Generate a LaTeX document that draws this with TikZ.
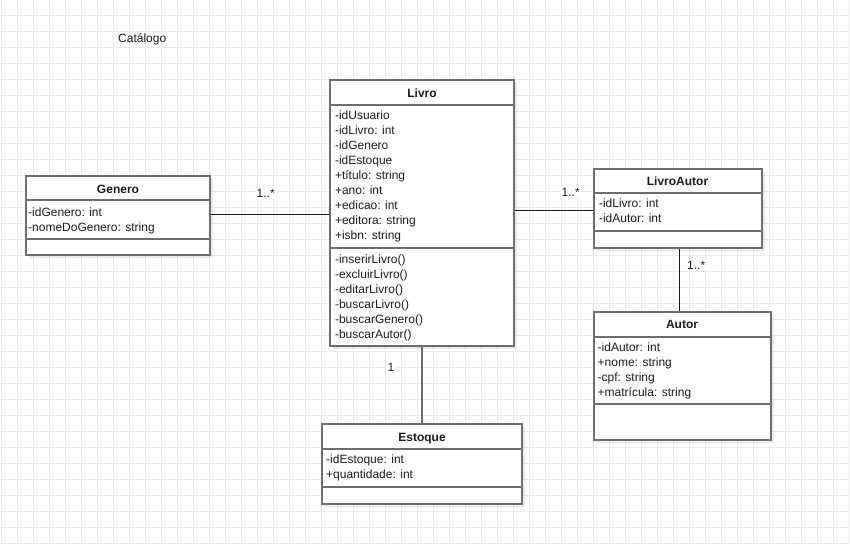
\documentclass[tikz,border=0pt]{standalone}
\usepackage{fontspec}
\setmainfont{Liberation Sans}
\usetikzlibrary{calc,shadows}
\definecolor{gridc}{HTML}{EBEBEB}
\definecolor{boxline}{HTML}{6E6E6E}
\definecolor{inkc}{HTML}{1C1C1C}
\definecolor{assocc}{HTML}{1A1A1A}
\pgfdeclarelayer{bg}
\pgfsetlayers{bg,main}
\tikzset{
  gridline/.style={draw=gridc, line width=1pt},
  cls/.style={draw=boxline, line width=2pt, fill=white, anchor=north west,
    inner sep=0pt, outer sep=0pt,
    drop shadow={shadow xshift=3pt, shadow yshift=-3pt, opacity=0.08, fill=black}},
  sepline/.style={draw=boxline, line width=2pt},
  ctitle/.style={anchor=base, inner sep=0pt, text=inkc,
    font=\bfseries\fontsize{12}{15}\selectfont},
  members/.style={anchor=north west, inner sep=0pt, align=left, text=inkc,
    font=\fontsize{12}{15}\selectfont},
  assoc/.style={draw=assocc, line width=1pt},
  assocgray/.style={draw=boxline, line width=2pt},
  mult/.style={anchor=base west, inner sep=1pt, fill=white, text=inkc,
    font=\fontsize{12}{15}\selectfont},
  plain/.style={anchor=base west, inner sep=0pt, text=inkc,
    font=\fontsize{12}{15}\selectfont}
}
\begin{document}
\begin{tikzpicture}[x=1pt,y=-1pt]
\useasboundingbox (0,0) rectangle (850,543);

% paper with grid
\begin{pgfonlayer}{bg}
  \fill[white] (0,0) rectangle (850,543);
  \foreach \i in {0,...,53} \draw[gridline] (1.5+16*\i,0) -- (1.5+16*\i,543);
  \foreach \j in {1,...,34} \draw[gridline] (0,-0.5+16*\j) -- (850,-0.5+16*\j);
\end{pgfonlayer}

% class boxes
\node[cls, minimum width=184pt, minimum height=266pt] (livro) at (330,80) {};
\node[cls, minimum width=184pt, minimum height=79pt] (genero) at (26,176) {};
\node[cls, minimum width=168pt, minimum height=79pt] (livroautor) at (593.5,168.5) {};
\node[cls, minimum width=177pt, minimum height=128pt] (autor) at (593.5,311.5) {};
\node[cls, minimum width=200pt, minimum height=80pt] (estoque) at (322,424) {};

% compartment separators
\draw[sepline] (livro.west |- 0,105) -- (livro.east |- 0,105);
\draw[sepline] (livro.west |- 0,248) -- (livro.east |- 0,248);
\draw[sepline] (genero.west |- 0,200) -- (genero.east |- 0,200);
\draw[sepline] (genero.west |- 0,238.7) -- (genero.east |- 0,238.7);
\draw[sepline] (livroautor.west |- 0,193) -- (livroautor.east |- 0,193);
\draw[sepline] (livroautor.west |- 0,231) -- (livroautor.east |- 0,231);
\draw[sepline] (autor.west |- 0,337) -- (autor.east |- 0,337);
\draw[sepline] (autor.west |- 0,404.3) -- (autor.east |- 0,404.3);
\draw[sepline] (estoque.west |- 0,449) -- (estoque.east |- 0,449);
\draw[sepline] (estoque.west |- 0,487) -- (estoque.east |- 0,487);

% class names
\node[ctitle] (livro-name) at (422,97.6) {Livro};
\node[ctitle] (genero-name) at (118,193.3) {Genero};
\node[ctitle] (livroautor-name) at (677.5,185) {LivroAutor};
\node[ctitle] (autor-name) at (682,328.6) {Autor};
\node[ctitle] (estoque-name) at (422,441) {Estoque};

% attributes and operations
\node[members] (livro-attrs) at (334.8,110.7) {-idUsuario\\-idLivro: int\\-idGenero\\-idEstoque\\+título: string\\+ano: int\\+edicao: int\\+editora: string\\+isbn: string};
\node[members] (livro-ops) at (334.8,254.9) {-inserirLivro()\\-excluirLivro()\\-editarLivro()\\-buscarLivro()\\-buscarGenero()\\-buscarAutor()};
\node[members] (genero-attrs) at (28,207.4) {-idGenero: int\\-nomeDoGenero: string};
\node[members] (livroautor-attrs) at (598.8,198.7) {-idLivro: int\\-idAutor: int};
\node[members] (autor-attrs) at (597.5,342.7) {-idAutor: int\\+nome: string\\-cpf: string\\+matrícula: string};
\node[members] (estoque-attrs) at (326,454.7) {-idEstoque: int\\+quantidade: int};

% associations
\begin{pgfonlayer}{bg}
  \draw[assoc] (genero.east |- 0,214.3) -- (livro.west |- 0,214.3);
  \draw[assoc] (livro.east |- 0,210.7) -- (livroautor.west |- 0,210.7);
  \draw[assoc] (livroautor.south -| 679.3,0) -- (autor.north -| 679.3,0);
  \draw[assocgray] (livro.south) -- (estoque.north);
\end{pgfonlayer}

% multiplicities
\node[mult] (mult-genero) at (255.5,197.5) {1..*};
\node[mult] (mult-livroautor) at (560.5,196) {1..*};
\node[mult] (mult-autor) at (686,269) {1..*};
\node[mult] (mult-estoque) at (386.5,371) {1};

% diagram caption
\node[plain] (catalogo) at (118,42.7) {Catálogo};
\end{tikzpicture}
\end{document}
